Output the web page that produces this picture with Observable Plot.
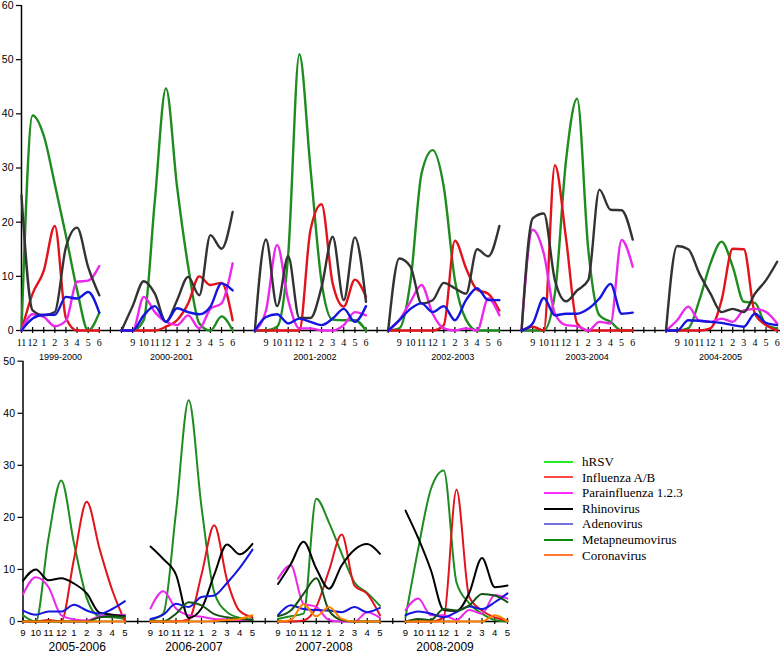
<!DOCTYPE html>
<html><head><meta charset="utf-8">
<script src="https://cdn.jsdelivr.net/npm/d3@7"></script>
<script src="https://cdn.jsdelivr.net/npm/@observablehq/plot@0.6"></script>
<style>
body{margin:0;background:#fff;}
#wrap{position:relative;width:780px;height:653px;overflow:hidden;background:#fff;}
#top{position:absolute;left:0;top:0;}
#bottom{position:absolute;left:0;top:350px;}
#legend{position:absolute;left:544px;top:454px;font-family:"Liberation Serif","Times New Roman",serif;font-size:13px;color:#000;}
</style></head><body>
<div id="wrap"><div id="top"></div><div id="bottom"></div><div id="legend"></div></div>
<script>
// ---------- DATA ----------
const viruses = ["hRSV","Influenza A/B","Parainfluenza 1.2.3","Rhinovirus","Adenovirus","Metapneumovirus","Coronavirus"];

// top panel: seasons 1999-2000 .. 2004-2005 (rows: hRSV, Influenza, Para, Rhino, Adeno)
const topSeasons = ["1999-2000","2000-2001","2001-2002","2002-2003","2003-2004","2004-2005"];
const topStart = [0, 9, 21, 33, 45, 58];          // tick index of each season's first value
const topLabelAt = [3.5, 13.5, 26.4, 38.8, 50.9, 62.9];
const topTickLabels = [
  "11","12","1","2","3","4","5","6","","",
  "9","10","11","12","1","2","3","4","5","6","","",
  "9","10","11","12","1","2","3","4","5","6","","",
  "9","10","11","12","1","2","3","4","5","6","","",
  "9","10","11","12","1","2","3","4","5","6","","","",
  "9","10","11","12","1","2","3","4","5","6"
];
// 1999-2000: months 11..6
const v1999 = [
  [0, 39.7, 36, 27, 17.5, 7.5, 0, 3.3],
  [0, 6.8, 11, 19.3, 2.3, 0, 0, 0],
  [0, 3, 2.5, 0.8, 1.8, 9, 9.2, 11.9],
  [25, 3.7, 2.8, 3.4, 15.4, 19, 11.7, 6.5],
  [0, 2.2, 2.9, 2.9, 6.2, 5.9, 7.1, 3.3]
];
// following seasons: months 8..6
const v2000 = [
  [0, 0, 1.9, 24, 44.7, 26.5, 11.8, 1.3, 0, 2.6, 0],
  [0, 0, 0, 0, 0.7, 1.9, 5, 10, 8.4, 8.8, 1.9],
  [0, 0, 6.2, 3.4, 1.6, 1, 2.8, 0.4, 4, 5, 12.4],
  [0, 4.5, 9.1, 6.8, 1.6, 5.6, 9.9, 6.5, 17.6, 15.1, 21.9],
  [0, 0, 2.8, 4.5, 1.6, 4.1, 3.4, 3, 4.4, 8.7, 7.4]
];
const v2001 = [
  [0, 0, 0.7, 14, 51, 30, 9, 2, 1.9, 1.9, 0],
  [0, 0, 0, 0, 0, 18.5, 23.3, 8.7, 4.4, 9.4, 6.2],
  [0, 3.7, 15.8, 5.6, 0.4, 0.4, 0, 0, 1, 3.4, 2.8],
  [0, 16.8, 4.5, 13.7, 2.3, 2.3, 8, 17.3, 5.6, 17.2, 5.3],
  [0, 2.5, 3, 1.3, 2.2, 1.6, 1, 2.2, 4, 1.6, 4.5]
];
const v2002 = [
  [0, 0.4, 9, 29, 33.3, 26.5, 9.3, 2, 0, 0, 0],
  [0, 0, 0, 0, 0, 1, 16.6, 11.5, 7.5, 6.8, 3.7],
  [0, 1.9, 5.3, 8.4, 3.1, 0.4, 0, 0.4, 0, 5.9, 2.8],
  [0, 13.3, 11.8, 5, 5.6, 8.8, 7.8, 6.8, 15, 13.7, 19.3],
  [0, 1.9, 4, 5, 3.4, 4.5, 1.9, 5.6, 7.8, 5.6, 5.6]
];
const v2003 = [
  [0, 0, 0, 6.8, 31.4, 42.8, 15, 2.8, 1.6, 0, 0],
  [0, 0.7, 0, 30.5, 17, 1.3, 0, 0, 0, 0, 0],
  [0, 18.6, 14.2, 3.1, 1, 0.8, 0, 1.6, 1.3, 16.7, 11.8],
  [0, 20.7, 21.6, 9.3, 5.4, 7.4, 9.3, 26, 22.3, 22.2, 16.8],
  [0, 1.3, 6, 2.8, 3.1, 3.1, 4, 5.9, 8.6, 3.1, 3.3]
];
const v2004 = [
  [0, 0, 0.4, 5.6, 12.4, 16.4, 11.8, 5.3, 5.1, 1, 0.4],
  [0, 0, 0, 0, 0.4, 5.6, 15.1, 15, 3.1, 1, 0],
  [0, 1.9, 4.4, 1.8, 1.6, 2.2, 1.6, 3.7, 4, 3.4, 1.3],
  [0, 15.6, 15, 10.5, 6.8, 3.4, 4, 3.4, 6.8, 9.3, 12.7],
  [0, 0, 1.9, 1.8, 1.6, 1.4, 1, 0.7, 3.1, 1.4, 1]
];
const topValues = [v1999, v2000, v2001, v2002, v2003, v2004];

// bottom panel: seasons 2005-2006 .. 2008-2009, months 9..5 (rows: all 7 viruses)
const bottomSeasons = ["2005-2006","2006-2007","2007-2008","2008-2009"];
const bottomStart = [0, 10, 20, 30];
const bottomLabelAt = [4.25, 13.4, 23.6, 33.1];
const bottomTickLabels = [
  "9","10","11","12","1","2","3","4","5","",
  "9","10","11","12","1","2","3","4","5","",
  "9","10","11","12","1","2","3","4","5","",
  "9","10","11","12","1","2","3","4","5"
];
const v2005 = [
  [1.2, 0, 16, 27.1, 15, 4.5, 1, 0.8, 0.5],
  [0, 0, 0.3, 0, 12, 23, 14, 6, 0],
  [5.2, 8.5, 6.6, 1.2, 0.4, 0.2, 1, 1.2, 1.3],
  [7.8, 10, 7.9, 8.3, 7.3, 5.4, 1.7, 1.3, 1],
  [2.1, 1.3, 1.9, 1.9, 3.2, 2.1, 1.5, 2.4, 3.9],
  [0, 0, 0, 0, 0, 0, 0.8, 1, 0.9],
  [0, 0, 0, 0, 0, 0, 0, 0, 0]
];
const v2006 = [
  [0.3, 1.5, 21, 42.5, 22, 5.6, 1.8, 0.7, 0.4],
  [0, 0, 0, 0.4, 9, 18.5, 8, 2, 0.8],
  [2.5, 5.8, 2.5, 1.2, 0.9, 0.5, 0.4, 0.3, 0.3],
  [14.4, 12, 9, 0.7, 2.5, 9, 14.8, 12.9, 14.9],
  [0.5, 1.3, 3.4, 2.8, 4.7, 5, 7.4, 10.3, 13.8],
  [0, 0, 1.5, 3.7, 3.1, 1.4, 0.8, 0.5, 0.3],
  [0, 0, 0, 0, 0, 0.1, 0.3, 0.5, 1.2]
];
const v2007 = [
  [0.5, 1, 1.5, 23.6, 19, 13, 7.5, 5.5, 3],
  [0, 0, 0.2, 2.8, 9.8, 16.7, 6.9, 5.3, 1.2],
  [8.2, 10.8, 3.4, 2.8, 0.3, 0, 0, 1.8, 0.7],
  [7.2, 11, 15.3, 10.2, 6.3, 10.8, 13.8, 14.9, 13],
  [1.2, 3.1, 2.4, 2.2, 2.1, 1.8, 2.8, 1.8, 2.6],
  [1, 2.1, 5.3, 8.3, 2.1, 0.3, 0, 0, 0],
  [0, 0.3, 3.3, 1, 2.8, 0.5, 0, 0, 0]
];
const v2008 = [
  [0.8, 14, 25.5, 29, 7.5, 3.5, 1.5, 0.3, 0],
  [0, 0, 0, 0.8, 25.3, 4.7, 2.1, 0.8, 0.2],
  [2.2, 4.4, 1.2, 1.2, 0.3, 2.2, 1.5, 5.1, 4.4],
  [21.3, 16, 9.8, 2.2, 2, 5.5, 12.2, 6.6, 6.9],
  [1.2, 1.9, 1.5, 0.8, 1.8, 2.9, 2.4, 3.7, 5.4],
  [0, 0.5, 0.3, 2.4, 2.1, 3.1, 5.3, 5, 3.7],
  [0, 0, 0, 0, 0, 0, 0, 1.2, 0]
];
const bottomValues = [v2005, v2006, v2007, v2008];

const topLineColors = ["#1f8c1f","#e3131b","#ec28ec","#333333","#1515e0","#145214","#ff7f00"];
const bottomLineColors = ["#1f8c1f","#e3131b","#ec28ec","#000000","#1515e0","#145214","#ff7f00"];
const legendColors = ["#22ee22","#ff4a4a","#ff30ff","#000000","#7474dc","#0a8a0a","#ff7a30"];

// ---------- BUILD ROWS ----------
function rows(values, starts, seasons) {
  const out = [];
  values.forEach((season, s) => {
    season.forEach((series, r) => {
      series.forEach((v, k) => out.push({season: seasons[s], virus: viruses[r], key: seasons[s] + "|" + r, order: r, i: starts[s] + k, value: v}));
    });
  });
  return out;
}
const topRows = rows(topValues, topStart, topSeasons);
const bottomRows = rows(bottomValues, bottomStart, bottomSeasons);

const sans = "Liberation Sans, Arial, Helvetica, sans-serif";
const serif = "Liberation Serif, Times New Roman, serif";

function panel({data, tickLabels, seasons, labelAt, width, height, mTop, mLeft, mRight, mBottom, xDomain, yMax, colors, strokeWidth, tickFont, tickFontSize, tickPad, seasonFontSize, seasonDy}) {
  const idx = d3.range(tickLabels.length);
  return Plot.plot({
    width, height,
    marginTop: mTop, marginLeft: mLeft, marginRight: mRight, marginBottom: mBottom,
    style: {background: "transparent", overflow: "visible"},
    x: {domain: xDomain},
    y: {domain: [0, yMax]},
    color: {domain: viruses, range: colors},
    marks: [
      Plot.ruleY([0], {stroke: "#000", strokeWidth: 1.5}),
      Plot.ruleX([xDomain[0]], {stroke: "#000", strokeWidth: 1.5}),
      Plot.ruleX(idx, {x: d => d, y1: () => 0, y2: () => 0, insetTop: -3, insetBottom: -3, stroke: "#000", strokeWidth: 1.2}),
      Plot.axisX({ticks: idx, tickFormat: i => tickLabels[i], tickSize: 0, tickPadding: tickPad, fontFamily: tickFont, fontSize: tickFontSize, label: null}),
      Plot.axisY({ticks: d3.range(0, yMax + 1, 10), tickSize: 5, tickPadding: 3, fontFamily: sans, fontSize: 10.5, label: null, strokeWidth: 1.2}),
      Plot.line(data, {x: "i", y: "value", z: "key", stroke: "virus", strokeWidth, curve: "monotone-x", sort: d => d.order * 1000 + d.i}),
      Plot.text(seasons, {x: (d, k) => labelAt[k], text: d => d, frameAnchor: "bottom", lineAnchor: "middle", dy: seasonDy, fontFamily: sans, fontSize: seasonFontSize, fill: "#000"})
    ]
  });
}

const topPlot = panel({
  data: topRows, tickLabels: topTickLabels, seasons: topSeasons, labelAt: topLabelAt,
  width: 780, height: 362, mTop: 5, mLeft: 21, mRight: 0, mBottom: 32,
  xDomain: [0, 68.3], yMax: 60, colors: topLineColors, strokeWidth: 2.4,
  tickFont: serif, tickFontSize: 10, tickPad: 8, seasonFontSize: 9, seasonDy: 26.5
});
const bottomPlot = panel({
  data: bottomRows, tickLabels: bottomTickLabels, seasons: bottomSeasons, labelAt: bottomLabelAt,
  width: 780, height: 303, mTop: 10.7, mLeft: 22.5, mRight: 273, mBottom: 32,
  xDomain: [0, 38], yMax: 50, colors: bottomLineColors, strokeWidth: 2,
  tickFont: sans, tickFontSize: 9.6, tickPad: 7.5, seasonFontSize: 12, seasonDy: 26
});
document.getElementById("top").append(topPlot);
document.getElementById("bottom").append(bottomPlot);

// ---------- LEGEND ----------
const legend = d3.select("#legend");
viruses.forEach((v, k) => {
  const row = legend.append("div")
    .style("position", "absolute").style("left", "0px").style("top", (k * 15.6) + "px")
    .style("height", "15.6px").style("display", "flex").style("align-items", "center").style("white-space", "nowrap");
  row.append("span").style("display", "inline-block").style("width", "29px").style("height", "2px").style("background", legendColors[k]);
  row.append("span").style("margin-left", "9px").style("line-height", "15.6px").text(v);
});
</script>
</body></html>
